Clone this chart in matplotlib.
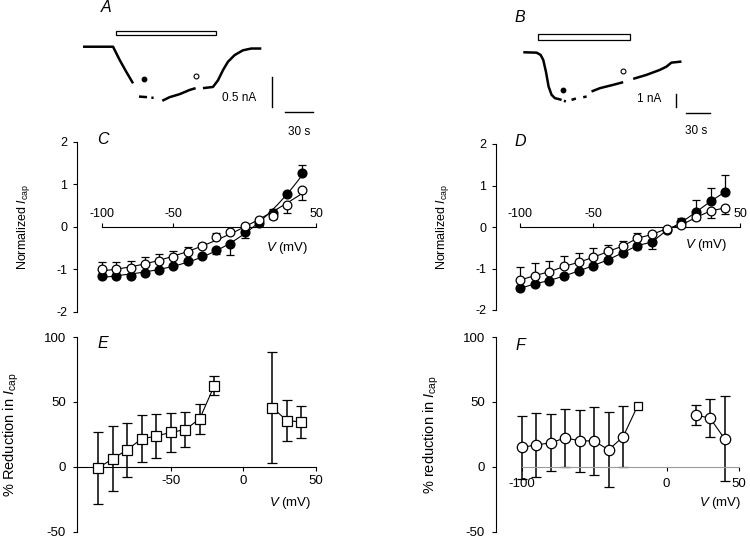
import numpy as np
import matplotlib
matplotlib.use('Agg')
import matplotlib.pyplot as plt
from matplotlib.patches import Rectangle

plt.rcParams['font.family'] = ['Liberation Sans', 'DejaVu Sans']
plt.rcParams['mathtext.fontset'] = 'custom'
plt.rcParams['mathtext.rm'] = 'Liberation Sans'
plt.rcParams['mathtext.it'] = 'Liberation Sans:italic'
plt.rcParams['axes.unicode_minus'] = False

nan = np.nan

# --- A: current trace (s, nA), NaN = gap in the record
traceA_t = [0, 31.8, 38.8, 45.9, 53.0, nan, 59.3, 67.8, nan, 72.4, 74.8, nan,
            84.0, 91.8, 102.4, 113.0, 119.3, nan,
            127.1, 137.7, 143.0, 148.3, 153.6, 160.6, 169.4, 178.3, 188.9]
traceA_i = [0, 0, -0.22, -0.42, -0.61, nan, -0.83, -0.84, nan, -0.85, -0.85, nan,
            -0.90, -0.84, -0.79, -0.72, -0.69, nan,
            -0.69, -0.67, -0.56, -0.39, -0.25, -0.14, -0.06, -0.03, -0.03]
drugA = (35.3, 141.2)
dotsA_t = [64.2, 120.0]
dotsA_i = [-0.53, -0.49]

# --- B: current trace (s, nA)
traceB_t = [0, 16.2, 21.1, 24.3, 27.5, 30.8, 34.4, 38.5, 46.6, nan, 49.4, 51.8, nan,
            58.7, 64.0, nan, 72.9, 77.0, nan,
            83.0, 93.2, 109.4, 121.5, nan,
            133.7, 149.9, 166.0, 174.2, 180.2, 192.4]
traceB_i = [0, -0.03, -0.2, -0.58, -1.45, -2.58, -3.2, -3.45, -3.58, nan, -3.65, -3.7, nan,
            -3.58, -3.48, nan, -3.38, -3.33, nan,
            -2.95, -2.7, -2.45, -2.25, nan,
            -2.0, -1.7, -1.33, -1.08, -0.78, -0.7]
drugB = (17.4, 129.6)
dotsB_t = [48.6, 121.5]
dotsB_i = [-2.83, -1.38]

# --- C / D: normalized I-V relations
volts = [-100, -90, -80, -70, -60, -50, -40, -30, -20, -10, 0, 10, 20, 30, 40]

c_filled = [-1.15, -1.16, -1.15, -1.09, -1.01, -0.91, -0.80, -0.68, -0.53, -0.39, -0.12, 0.09, 0.34, 0.77, 1.26]
c_filled_err = [0.04, 0.03, 0.03, 0.03, 0.03, 0.03, 0.04, 0.05, 0.10, 0.28, 0.13, 0.06, 0.08, 0.06, 0.20]
c_open = [-1.00, -1.00, -0.97, -0.87, -0.79, -0.70, -0.60, -0.45, -0.23, -0.12, 0.03, 0.16, 0.27, 0.51, 0.87]
c_open_err = [0.17, 0.17, 0.18, 0.16, 0.16, 0.14, 0.12, 0.08, 0.08, 0.06, 0.04, 0.05, 0.08, 0.17, 0.23]

d_filled = [-1.48, -1.37, -1.29, -1.18, -1.06, -0.93, -0.79, -0.62, -0.45, -0.36, -0.08, 0.11, 0.36, 0.62, 0.85]
d_filled_err = [0.04, 0.04, 0.04, 0.04, 0.04, 0.04, 0.05, 0.05, 0.08, 0.17, 0.05, 0.10, 0.28, 0.32, 0.40]
d_open = [-1.28, -1.17, -1.08, -0.95, -0.85, -0.73, -0.59, -0.46, -0.27, -0.18, -0.04, 0.05, 0.23, 0.39, 0.46]
d_open_err = [0.31, 0.30, 0.26, 0.24, 0.23, 0.23, 0.15, 0.12, 0.12, 0.05, 0.04, 0.05, 0.06, 0.18, 0.14]

# --- E / F: % reduction
e_volts = [-100, -90, -80, -70, -60, -50, -40, -30, -20, 20, 30, 40]
e_red = [-1, 6, 13, 21.5, 23.5, 26.5, 28.5, 37, 62.5, 45.5, 35.5, 34.5]
e_err = [27.5, 25, 21, 18, 17, 15, 13.5, 11.5, 7.5, 43, 16, 12.5]

f_volts = [-100, -90, -80, -70, -60, -50, -40, -30, 20, 30, 40]
f_red = [14.8, 16.8, 18.3, 22.2, 20, 19.8, 13, 23, 39.8, 37.5, 21.6]
f_err = [24, 24.6, 22, 22.2, 24, 26, 29, 23.5, 7.7, 14.7, 32.7]
f_last_v = -20
f_last_red = 46.8

W, H = 750, 540


def box(x0, y0, x1, y1):
    # pixel box (origin top-left) -> figure fraction rect
    return [x0 / W, 1 - y1 / H, (x1 - x0) / W, (y1 - y0) / H]


def ftext(x, y, s, **kw):
    fig.text(x / W, 1 - y / H, s, ha='center', va='center', **kw)


def one_sided(vals, other, err):
    vals, other, err = np.asarray(vals), np.asarray(other), np.asarray(err)
    up = np.where(vals >= other, err, 0)
    down = np.where(vals < other, err, 0)
    return [down, up]


fig = plt.figure(figsize=(7.5, 5.4), dpi=100)

# ---------- A / B traces
def trace_panel(rect, xlim, ylim, t, i, drug, bar_h, dots_t, dots_i,
                vbar_t, vbar_i, vlab, vlab_xy, hbar_t, hbar_i, hlab_xy):
    ax = fig.add_axes(rect)
    ax.set_xlim(*xlim)
    ax.set_ylim(*ylim)
    ax.axis('off')
    ax.plot(t, i, color='black', lw=1.8, solid_capstyle='butt')
    ax.add_patch(Rectangle((drug[0], bar_h[0]), drug[1] - drug[0], bar_h[1] - bar_h[0],
                           facecolor='white', edgecolor='black', lw=0.9))
    ax.plot(dots_t[0], dots_i[0], 'o', color='black', ms=3.2)
    ax.plot(dots_t[1], dots_i[1], 'o', mfc='white', mec='black', ms=3.5, mew=0.8)
    ax.plot([vbar_t, vbar_t], vbar_i, color='black', lw=1)
    ax.plot(hbar_t, [hbar_i, hbar_i], color='black', lw=1)
    ax.text(vlab_xy[0], vlab_xy[1], vlab, ha='center', va='center', fontsize=8.5)
    ax.text(hlab_xy[0], hlab_xy[1], '30 s', ha='center', va='center', fontsize=8.5)
    return ax


trace_panel(box(70, 0, 330, 150), (-13.8, 261.7), (-1.72, 0.778),
            traceA_t, traceA_i, drugA, (0.2, 0.267), dotsA_t, dotsA_i,
            200.5, [-0.51, -1.01], '0.5 nA', (165.9, -0.86),
            [213.6, 243.6], -1.08, (229.5, -1.42))
trace_panel(box(490, 0, 750, 150), (-40.5, 275.8), (-7.35, 3.93),
            traceB_t, traceB_i, drugB, (0.93, 1.35), dotsB_t, dotsB_i,
            186.3, [-3.13, -4.13], '1 nA', (153.1, -3.5),
            [197.6, 227.6], -4.58, (210.6, -5.95))


# ---------- C / D I-V plots
def iv_panel(rect, xlim, filled, filled_err, opn, opn_err, fit, label_x):
    ax = fig.add_axes(rect)
    ax.set_xlim(*xlim)
    ax.set_ylim(-2, 2)
    v = np.asarray(volts, dtype=float)
    filled = np.asarray(filled)
    opn = np.asarray(opn)
    if fit:
        vv = np.linspace(v[0], v[-1], 200)
        for y in (filled, opn):
            ax.plot(vv, np.polyval(np.polyfit(v, y, 3), vv), color='black', lw=0.8, zorder=1)
    else:
        for y in (filled, opn):
            ax.plot(v, y, color='black', lw=0.8, zorder=1)
    ax.errorbar(v, opn, yerr=one_sided(opn, filled, opn_err), fmt='none', ecolor='black',
                elinewidth=0.9, capsize=3, capthick=0.9, zorder=2)
    ax.errorbar(v, filled, yerr=one_sided(filled, opn, filled_err), fmt='none', ecolor='black',
                elinewidth=0.9, capsize=3, capthick=0.9, zorder=2)
    ax.plot(v, filled, 'o', color='black', ms=6.3, zorder=3, clip_on=False)
    ax.plot(v, opn, 'o', mfc='white', mec='black', ms=6.3, mew=0.9, zorder=4, clip_on=False)

    for s in ('bottom', 'right'):
        ax.spines[s].set_visible(False)
    ax.spines['top'].set_position(('data', 0))
    ax.spines['top'].set_bounds(-100, 50)
    ax.spines['left'].set_linewidth(0.8)
    ax.spines['top'].set_linewidth(0.8)
    ax.xaxis.set_ticks_position('top')
    ax.set_xticks([-100, -50, 50])
    ax.set_xticklabels(['-100', '-50', '50'])
    ax.set_yticks([-2, -1, 0, 1, 2])
    ax.tick_params(direction='out', length=3, width=0.8, labelsize=9, pad=2)
    ax.tick_params(axis='y', pad=4)
    ax.set_ylabel(r'Normalized $I_{\rm cap}$', fontsize=9)
    ax.yaxis.set_label_coords(label_x, 0.5)
    return ax


iv_panel(box(77, 142, 316, 312), (-117.5, 50), c_filled, c_filled_err, c_open, c_open_err,
         True, -0.19)
iv_panel(box(496, 144, 740, 310), (-116.4, 50), d_filled, d_filled_err, d_open, d_open_err,
         False, -0.184)


# ---------- E / F reduction plots
def red_panel(rect, xlim, xticks, spine_lo, spine_color, ylabel, label_x, xpad):
    ax = fig.add_axes(rect)
    ax.set_xlim(*xlim)
    ax.set_ylim(-50, 100)
    for s in ('top', 'right'):
        ax.spines[s].set_visible(False)
    ax.spines['bottom'].set_position(('data', 0))
    ax.spines['bottom'].set_bounds(spine_lo, 50)
    ax.spines['bottom'].set_color(spine_color)
    ax.spines['bottom'].set_linewidth(0.8)
    ax.spines['left'].set_linewidth(0.8)
    ax.set_xticks(xticks)
    ax.set_xticklabels([str(x) for x in xticks])
    ax.set_yticks([-50, 0, 50, 100])
    ax.tick_params(direction='out', length=3, width=0.8, labelsize=9.5)
    ax.tick_params(axis='x', pad=xpad)
    ax.tick_params(axis='y', pad=5)
    ax.set_ylabel(ylabel, fontsize=10.5)
    ax.yaxis.set_label_coords(label_x, 0.5)
    return ax


axE = red_panel(box(77, 337, 316, 531.5), (-114.5, 50), [-50, 0, 50], -114.5, 'black',
                r'% Reduction in $I_{\rm cap}$', -0.235, 3)
axE.plot(e_volts[:9], e_red[:9], color='black', lw=0.8, zorder=1)
axE.plot(e_volts[9:], e_red[9:], color='black', lw=0.8, zorder=1)
axE.errorbar(e_volts, e_red, yerr=e_err, fmt='none', ecolor='black', elinewidth=1.1,
             capsize=3.5, capthick=0.9, zorder=2)
axE.plot(e_volts, e_red, 's', mfc='white', mec='black', ms=7.5, mew=0.9, zorder=3, clip_on=False)

axF = red_panel(box(496, 337, 739, 531.5), (-117.7, 50), [-100, 0, 50], -100, '#9a9a9a',
                r'% reduction in $I_{\rm cap}$', -0.228, 5)
axF.plot(f_volts[:8] + [f_last_v], f_red[:8] + [f_last_red], color='black', lw=0.8, zorder=1)
axF.plot(f_volts[8:], f_red[8:], color='black', lw=0.8, zorder=1)
axF.errorbar(f_volts, f_red, yerr=f_err, fmt='none', ecolor='black', elinewidth=1.1,
             capsize=3.5, capthick=0.9, zorder=2)
axF.plot(f_volts, f_red, 'o', mfc='white', mec='black', ms=7.5, mew=0.9, zorder=3, clip_on=False)
axF.plot(f_last_v, f_last_red, 's', mfc='white', mec='black', ms=6, mew=0.9, zorder=3)

# ---------- labels
for (x, y, s) in [(106, 8, 'A'), (520, 18, 'B'), (103, 140, 'C'), (520, 142, 'D'),
                  (103, 344, 'E'), (520, 345, 'F')]:
    ftext(x, y, s, fontsize=11.5, style='italic')
for (x, y) in [(287, 248), (706, 245), (290, 503), (720, 503)]:
    ftext(x, y, r'$V$ (mV)', fontsize=9.5)

fig.savefig('out.png', dpi=100)
